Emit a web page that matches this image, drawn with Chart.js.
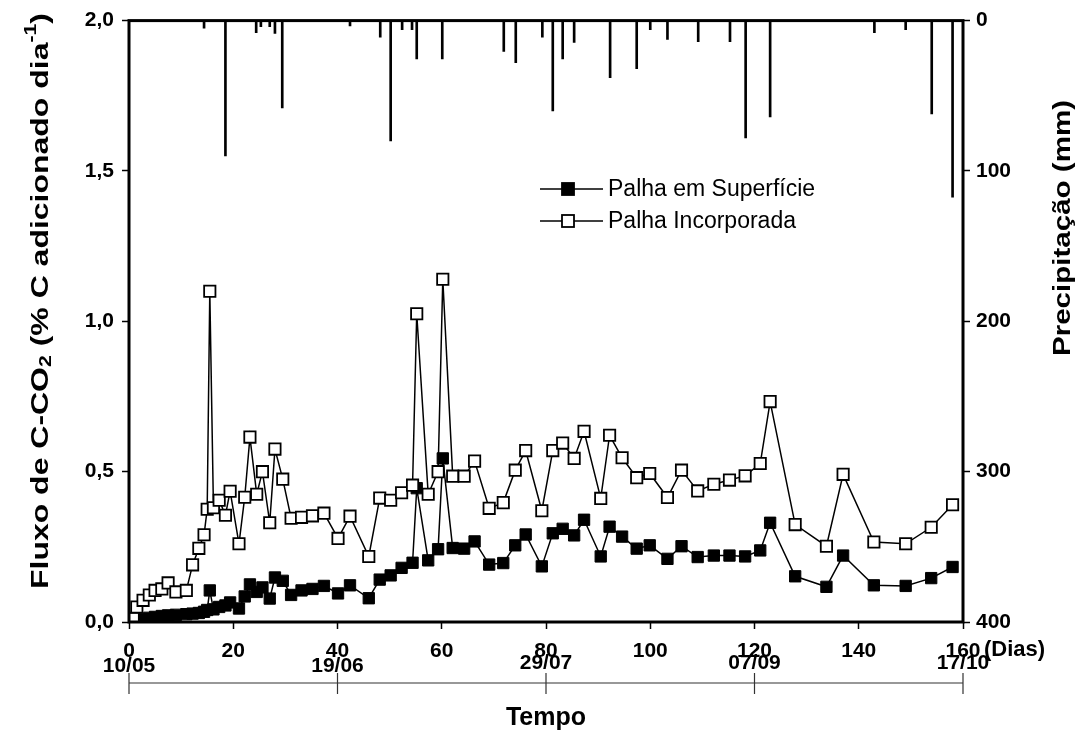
<!DOCTYPE html>
<html>
<head>
<meta charset="utf-8">
<script src="https://cdn.jsdelivr.net/npm/chart.js@4.4.1/dist/chart.umd.min.js"></script>
<style>
  html, body { margin: 0; padding: 0; background: #fff; }
</style>
</head>
<body>
<canvas id="chart" width="1081" height="753"></canvas>
<script>
// sampling days (days after 10/05)
const days = [0, 0.8, 1.5, 2.7, 3.9, 5, 6.3, 7.5, 9, 11, 12.2, 13.4, 14.4, 15, 15.5, 16.2, 17.3, 18.5, 19.4, 21.1,
    22.2, 23.2, 24.5, 25.6, 27, 28, 29.5, 31.1, 33.1, 35.2, 37.4, 40.1, 42.4, 46, 48.1, 50.2, 52.3, 54.4, 55.2, 57.4,
    59.3, 60.2, 62.1, 64.3, 66.3, 69.1, 71.8, 74.1, 76.1, 79.2, 81.3, 83.2, 85.4, 87.3, 90.5, 92.2, 94.6, 97.4, 99.9, 103.3,
    106, 109.1, 112.2, 115.2, 118.2, 121.1, 123, 127.8, 133.8, 137, 142.9, 149, 153.9, 158];

// Palha em Superficie (filled squares)
const superficie = [0.0, 0.003, 0.006, 0.01, 0.014, 0.017, 0.02, 0.022, 0.024, 0.026, 0.028, 0.03, 0.034, 0.04, 0.105, 0.042, 0.05, 0.055, 0.065, 0.045,
    0.085, 0.125, 0.1, 0.115, 0.078, 0.148, 0.137, 0.09, 0.105, 0.11, 0.12, 0.095, 0.122, 0.079, 0.141, 0.155, 0.18, 0.197, 0.445, 0.205,
    0.242, 0.544, 0.246, 0.244, 0.268, 0.191, 0.196, 0.255, 0.291, 0.185, 0.295, 0.31, 0.288, 0.34, 0.218, 0.317, 0.284, 0.244, 0.255, 0.21,
    0.252, 0.216, 0.221, 0.221, 0.218, 0.238, 0.33, 0.152, 0.117, 0.221, 0.122, 0.12, 0.146, 0.183];

// Palha Incorporada (open squares)
const incorporada = [0.005, 0.012, 0.05, 0.072, 0.09, 0.105, 0.11, 0.13, 0.1, 0.105, 0.19, 0.245, 0.29, 0.375, 1.1, 0.38, 0.405, 0.355, 0.435, 0.26,
    0.415, 0.615, 0.425, 0.5, 0.33, 0.575, 0.475, 0.345, 0.348, 0.353, 0.362, 0.278, 0.352, 0.218, 0.412, 0.405, 0.43, 0.455, 1.025, 0.425,
    0.5, 1.14, 0.485, 0.485, 0.535, 0.378, 0.397, 0.505, 0.57, 0.37, 0.57, 0.595, 0.544, 0.634, 0.411, 0.621, 0.546, 0.48, 0.494, 0.414,
    0.505, 0.436, 0.458, 0.472, 0.486, 0.527, 0.733, 0.324, 0.252, 0.491, 0.266, 0.26, 0.315, 0.39];

// precipitation (mm), hanging from the top axis
const rainDays = [14.4, 18.5, 24.4, 25.3, 27, 28, 29.4, 42.4, 48.2, 50.2, 52.4, 54.3, 55.2, 60.1, 71.9, 74.2, 79.3, 81.3, 83.2, 85.4,
    92.3, 97.4, 100, 103.3, 109.2, 115.3, 118.3, 123, 143, 149, 154, 158];
const rainMm = [5, 90, 8, 4, 4, 8.5, 58, 3.5, 11, 80, 6, 6, 25.5, 25.5, 20.5, 28, 11, 60, 25.5, 14.5,
    38, 32, 6, 12.5, 14, 14, 78, 64, 8, 6, 62, 117.5];

// calendar dates under the day axis
const dateDays = [0, 40, 80, 120, 160];
const dateLabels = ['10/05', '19/06', '29/07', '07/09', '17/10'];

const FONT = "'Liberation Sans', Arial, sans-serif";

function toXY(xs, ys) {
    return xs.map((x, i) => ({x: x, y: ys[i]}));
}

// rotated text with sub/superscript parts, stretched along its direction to a given length
function richText(ctx, parts, cx, cy, angle, length) {
    ctx.save();
    ctx.translate(cx, cy);
    ctx.rotate(angle);
    ctx.textBaseline = 'middle';
    ctx.textAlign = 'left';
    let total = 0;
    for (const p of parts) {
        ctx.font = p.font;
        total += ctx.measureText(p.t).width;
    }
    ctx.scale(length / total, 1);
    let px = -total / 2;
    for (const p of parts) {
        ctx.font = p.font;
        ctx.fillText(p.t, px, p.dy || 0);
        px += ctx.measureText(p.t).width;
    }
    ctx.restore();
}

const decor = {
    id: 'decor',
    afterDraw(chart) {
        const ctx = chart.ctx;
        const a = chart.chartArea;
        const xs = chart.scales.x;
        ctx.save();
        ctx.fillStyle = '#000';
        ctx.strokeStyle = '#000';

        // frame
        ctx.lineWidth = 3;
        ctx.strokeRect(a.left, a.top, a.right - a.left, a.bottom - a.top);

        // (Dias)
        ctx.font = 'bold 22px ' + FONT;
        ctx.textAlign = 'left';
        ctx.textBaseline = 'middle';
        ctx.fillText('(Dias)', 984, 650);

        // dates row + timeline
        ctx.font = 'bold 21px ' + FONT;
        ctx.textAlign = 'center';
        dateDays.forEach((d, i) => {
            const px = xs.getPixelForValue(d);
            ctx.fillText(dateLabels[i], px, i < 2 ? 666 : 663);
        });
        ctx.lineWidth = 1.2;
        ctx.strokeStyle = '#333';
        ctx.beginPath();
        ctx.moveTo(xs.getPixelForValue(dateDays[0]), 683);
        ctx.lineTo(xs.getPixelForValue(dateDays[dateDays.length - 1]), 683);
        dateDays.forEach((d) => {
            const px = xs.getPixelForValue(d);
            ctx.moveTo(px, 673);
            ctx.lineTo(px, 694);
        });
        ctx.stroke();

        ctx.font = 'bold 25px ' + FONT;
        ctx.fillText('Tempo', (a.left + a.right) / 2, 718);

        // axis titles
        const big = 'bold 24px ' + FONT;
        const small = 'bold 16px ' + FONT;
        richText(ctx, [
            {t: 'Fluxo de C-CO', font: big},
            {t: '2', font: small, dy: 6},
            {t: ' (% C adicionado dia', font: big},
            {t: '-1', font: small, dy: -9},
            {t: ')', font: big}
        ], 41, 301, -Math.PI / 2, 576);
        richText(ctx, [{t: 'Precipitação (mm)', font: big}], 1063, 228, -Math.PI / 2, 256);

        // legend
        const legend = [
            {label: 'Palha em Superfície', fill: '#000', y: 189},
            {label: 'Palha Incorporada', fill: '#fff', y: 221}
        ];
        ctx.font = '23px ' + FONT;
        ctx.textAlign = 'left';
        for (const item of legend) {
            ctx.strokeStyle = '#000';
            ctx.lineWidth = 1.5;
            ctx.beginPath();
            ctx.moveTo(540, item.y);
            ctx.lineTo(603, item.y);
            ctx.stroke();
            ctx.fillStyle = item.fill;
            ctx.fillRect(562, item.y - 6, 12, 12);
            ctx.lineWidth = 1.8;
            ctx.strokeRect(562, item.y - 6, 12, 12);
            ctx.fillStyle = '#000';
            ctx.fillText(item.label, 608, item.y + 1);
        }
        ctx.restore();
    }
};

const tickFont = {family: FONT, size: 21, weight: 'bold'};
const tickGrid = {offset: false, drawOnChartArea: false, drawTicks: true, tickLength: 7, tickWidth: 1.5, tickColor: '#000'};

new Chart(document.getElementById('chart'), {
    type: 'line',
    data: {
        datasets: [
            {
                label: 'Palha Incorporada',
                data: toXY(days, incorporada),
                yAxisID: 'y',
                borderColor: '#000',
                borderWidth: 1.5,
                pointStyle: 'rect',
                pointRadius: 8,
                pointBackgroundColor: '#fff',
                pointBorderColor: '#000',
                pointBorderWidth: 1.8,
                tension: 0,
                order: 1
            },
            {
                label: 'Palha em Superfície',
                data: toXY(days, superficie),
                yAxisID: 'y',
                borderColor: '#000',
                borderWidth: 1.5,
                pointStyle: 'rect',
                pointRadius: 8,
                pointBackgroundColor: '#000',
                pointBorderColor: '#000',
                pointBorderWidth: 1,
                tension: 0,
                order: 2
            },
            {
                type: 'bar',
                label: 'Precipitação',
                data: toXY(rainDays, rainMm),
                yAxisID: 'y2',
                backgroundColor: '#000',
                barThickness: 2,
                order: 3
            }
        ]
    },
    options: {
        responsive: false,
        animation: false,
        layout: {
            padding: {top: 17, left: 0, right: 0, bottom: 0}
        },
        plugins: {
            legend: {display: false},
            tooltip: {enabled: false}
        },
        scales: {
            x: {
                type: 'linear',
                position: 'bottom',
                min: 0,
                max: 160,
                offset: false,
                afterFit: (scale) => { scale.height = 131; },
                ticks: {
                    stepSize: 20,
                    autoSkip: false,
                    color: '#000',
                    font: tickFont,
                    padding: 10,
                    maxRotation: 0
                },
                grid: tickGrid,
                border: {display: false}
            },
            y: {
                type: 'linear',
                position: 'left',
                min: 0,
                max: 2,
                afterFit: (scale) => { scale.width = 129; },
                ticks: {
                    stepSize: 0.5,
                    color: '#000',
                    font: tickFont,
                    padding: 8,
                    callback: (v) => v.toFixed(1).replace('.', ',')
                },
                grid: tickGrid,
                border: {display: false}
            },
            y2: {
                type: 'linear',
                position: 'right',
                min: 0,
                max: 400,
                reverse: true,
                afterFit: (scale) => { scale.width = 118; },
                ticks: {
                    stepSize: 100,
                    color: '#000',
                    font: tickFont,
                    padding: 6
                },
                grid: tickGrid,
                border: {display: false}
            }
        }
    },
    plugins: [decor]
});
</script>
</body>
</html>
